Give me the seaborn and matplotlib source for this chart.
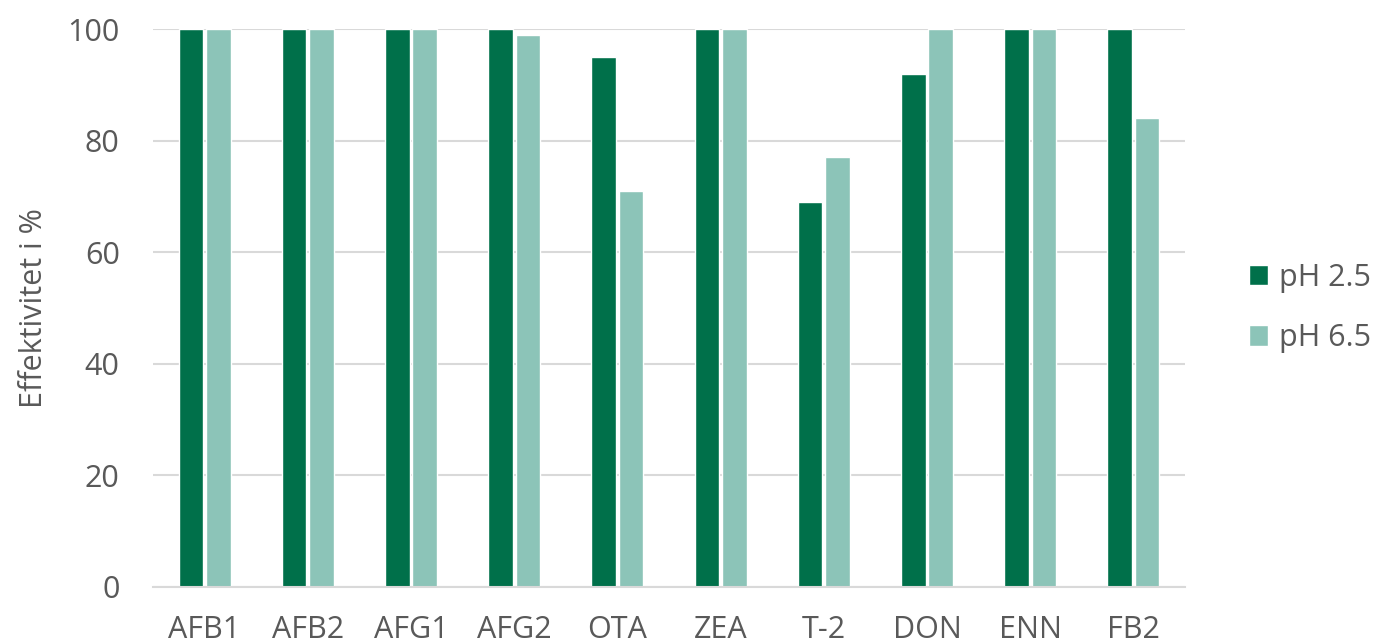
import matplotlib
matplotlib.use('Agg')
import matplotlib.pyplot as plt
import seaborn as sns
import pandas as pd

# ============================================
# Data
# ============================================
toxins = ['AFB1', 'AFB2', 'AFG1', 'AFG2', 'OTA', 'ZEA', 'T-2', 'DON', 'ENN', 'FB2']
ph_25 = [100, 100, 100, 100, 95, 100, 69, 92, 100, 100]
ph_65 = [100, 100, 100, 99, 71, 100, 77, 100, 100, 84]
series_names = ['pH 2.5', 'pH 6.5']
yticks = [0, 20, 40, 60, 80, 100]

df = pd.DataFrame({
    'toxin': toxins * 2,
    'value': ph_25 + ph_65,
    'serie': [series_names[0]] * len(toxins) + [series_names[1]] * len(toxins),
})

sns.set_style('white')
plt.rcParams['font.family'] = ['Open Sans', 'DejaVu Sans']
text_color = '#595959'

fig = plt.figure(figsize=(13.9, 6.39), dpi=100)
ax = fig.add_axes([153 / 1390, 1 - 587 / 639, (1185 - 153) / 1390, (587 - 29) / 639])

sns.barplot(
    data=df, x='toxin', y='value', hue='serie',
    palette=['#00704A', '#8CC4B8'], width=0.53, gap=0.1,
    saturation=1, ax=ax, legend=True
)

ax.set_ylim(0, 100)
ax.set_yticks(yticks)
ax.yaxis.grid(True, color='#D9D9D9', linewidth=1.5)
ax.set_axisbelow(True)
for side in ['top', 'right', 'left']:
    ax.spines[side].set_visible(False)
ax.spines['bottom'].set_color('#D9D9D9')
ax.spines['bottom'].set_linewidth(1.5)
ax.tick_params(axis='both', length=0, labelsize=22, colors=text_color)
ax.tick_params(axis='y', pad=24)
ax.tick_params(axis='x', pad=20)
ax.set_xlabel('')
ax.set_ylabel('Effektivitet i %', fontsize=22, color=text_color, labelpad=13)

leg = ax.legend(
    loc='center left', bbox_to_anchor=(1.035, 0.5), frameon=False,
    fontsize=22, handlelength=0.65, handleheight=0.65, handletextpad=0.35,
    labelspacing=1.0
)
for t in leg.get_texts():
    t.set_color(text_color)

plt.savefig('out.png', dpi=100)
plt.close()
